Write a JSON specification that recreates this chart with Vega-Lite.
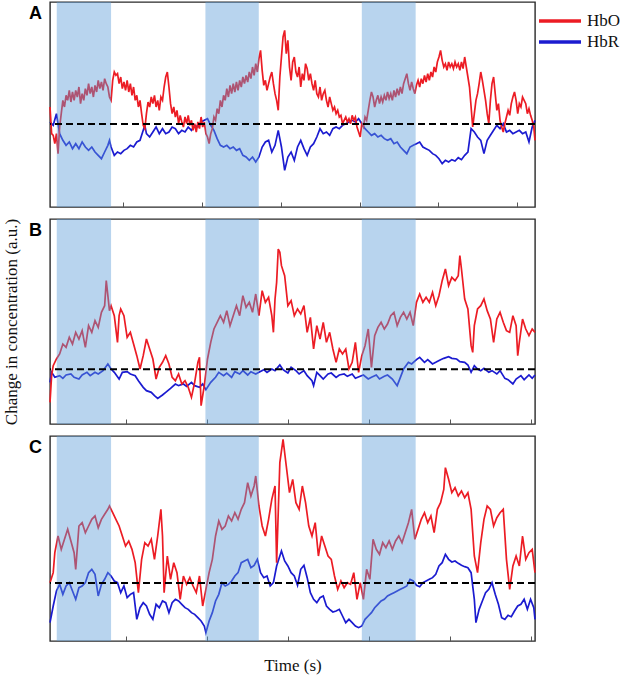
{
"$schema": "https://vega.github.io/schema/vega-lite/v6.json",
"padding": {"left": 1, "top": 1, "right": 2, "bottom": 2},
"bounds": "flush",
"spacing": 12,
"resolve": {"scale": {"x": "independent", "y": "independent", "color": "shared"}},
"config": {"view": {"stroke": "#2a2a2a", "strokeWidth": 1.4}, "axis": {"grid": false}},
"datasets": {
"bands": [{"s": 4.2, "e": 38}, {"s": 96.7, "e": 129.9}, {"s": 194, "e": 227.5}],
"aO": [{"t":0,"v":0.51},{"t":1,"v":-0.29},{"t":2,"v":-0.34},{"t":3,"v":-0.59},{"t":4,"v":-0.29},{"t":5,"v":-0.89},{"t":6,"v":-0.09},{"t":7,"v":0.31},{"t":8,"v":0.71},{"t":9,"v":0.51},{"t":10,"v":0.86},{"t":11,"v":0.71},{"t":12,"v":1.01},{"t":13,"v":0.66},{"t":14,"v":0.96},{"t":15,"v":0.71},{"t":16,"v":1.01},{"t":17,"v":0.81},{"t":18,"v":1.11},{"t":19,"v":0.61},{"t":20,"v":0.91},{"t":21,"v":0.71},{"t":22,"v":1.06},{"t":23,"v":0.86},{"t":24,"v":1.21},{"t":25,"v":0.91},{"t":26,"v":1.11},{"t":27,"v":0.81},{"t":28,"v":1.16},{"t":29,"v":0.96},{"t":30,"v":1.31},{"t":31,"v":1.06},{"t":32,"v":1.26},{"t":33,"v":1.01},{"t":34,"v":1.36},{"t":35,"v":1.21},{"t":36,"v":1.11},{"t":37,"v":0.81},{"t":38,"v":0.71},{"t":39,"v":1.31},{"t":40,"v":1.56},{"t":41,"v":1.46},{"t":42,"v":1.51},{"t":43,"v":1.21},{"t":44,"v":1.41},{"t":45,"v":1.06},{"t":46,"v":1.26},{"t":47,"v":1.01},{"t":48,"v":1.31},{"t":49,"v":0.96},{"t":50,"v":1.21},{"t":51,"v":0.86},{"t":52,"v":1.11},{"t":53,"v":0.71},{"t":54,"v":0.86},{"t":55,"v":0.51},{"t":56,"v":0.71},{"t":57,"v":0.31},{"t":58,"v":-0.04},{"t":59,"v":-0.14},{"t":60,"v":0.31},{"t":61,"v":0.66},{"t":62,"v":0.51},{"t":63,"v":0.81},{"t":64,"v":0.61},{"t":65,"v":0.86},{"t":66,"v":0.51},{"t":67,"v":0.71},{"t":68,"v":0.41},{"t":69,"v":0.81},{"t":70,"v":0.71},{"t":71,"v":1.11},{"t":72,"v":1.41},{"t":73,"v":1.56},{"t":74,"v":1.11},{"t":75,"v":0.61},{"t":76,"v":0.31},{"t":77,"v":0.51},{"t":78,"v":0.21},{"t":79,"v":0.41},{"t":80,"v":0.01},{"t":81,"v":0.26},{"t":82,"v":0.06},{"t":83,"v":-0.09},{"t":84,"v":0.21},{"t":85,"v":0.01},{"t":86,"v":0.26},{"t":87,"v":-0.04},{"t":88,"v":0.11},{"t":89,"v":-0.19},{"t":90,"v":0.01},{"t":91,"v":-0.24},{"t":92,"v":0.06},{"t":93,"v":-0.14},{"t":94,"v":0.21},{"t":95,"v":-0.09},{"t":96,"v":0.06},{"t":97,"v":-0.29},{"t":98,"v":-0.39},{"t":99,"v":-0.59},{"t":100,"v":-0.29},{"t":101,"v":-0.14},{"t":102,"v":0.21},{"t":103,"v":0.11},{"t":104,"v":0.46},{"t":105,"v":0.31},{"t":106,"v":0.71},{"t":107,"v":0.51},{"t":108,"v":0.86},{"t":109,"v":0.71},{"t":110,"v":1.06},{"t":111,"v":0.81},{"t":112,"v":1.16},{"t":113,"v":0.91},{"t":114,"v":1.21},{"t":115,"v":0.96},{"t":116,"v":1.26},{"t":117,"v":1.01},{"t":118,"v":1.31},{"t":119,"v":1.11},{"t":120,"v":1.41},{"t":121,"v":1.21},{"t":122,"v":1.46},{"t":123,"v":1.26},{"t":124,"v":1.56},{"t":125,"v":1.36},{"t":126,"v":1.71},{"t":127,"v":1.46},{"t":128,"v":1.81},{"t":129,"v":1.56},{"t":130,"v":1.96},{"t":131,"v":2.21},{"t":132,"v":1.61},{"t":133,"v":1.16},{"t":134,"v":1.31},{"t":135,"v":1.01},{"t":136,"v":1.21},{"t":137,"v":1.41},{"t":138,"v":1.56},{"t":139,"v":1.21},{"t":140,"v":0.91},{"t":141,"v":0.71},{"t":142,"v":0.41},{"t":143,"v":1.41},{"t":144,"v":2.01},{"t":145,"v":2.61},{"t":146,"v":2.81},{"t":147,"v":2.11},{"t":148,"v":2.51},{"t":149,"v":1.71},{"t":150,"v":1.31},{"t":151,"v":1.86},{"t":152,"v":2.01},{"t":153,"v":1.56},{"t":154,"v":1.41},{"t":155,"v":1.71},{"t":156,"v":1.11},{"t":157,"v":1.51},{"t":158,"v":1.31},{"t":159,"v":1.81},{"t":160,"v":1.66},{"t":161,"v":1.31},{"t":162,"v":1.51},{"t":163,"v":1.21},{"t":164,"v":1.01},{"t":165,"v":1.31},{"t":166,"v":0.91},{"t":167,"v":0.81},{"t":168,"v":1.11},{"t":169,"v":0.71},{"t":170,"v":0.91},{"t":171,"v":1.01},{"t":172,"v":0.71},{"t":173,"v":0.51},{"t":174,"v":0.81},{"t":175,"v":0.61},{"t":176,"v":0.41},{"t":177,"v":0.51},{"t":178,"v":0.31},{"t":179,"v":0.41},{"t":180,"v":0.21},{"t":181,"v":0.26},{"t":182,"v":0.01},{"t":183,"v":0.11},{"t":184,"v":0.21},{"t":185,"v":0.06},{"t":186,"v":0.16},{"t":187,"v":0.01},{"t":188,"v":0.26},{"t":189,"v":0.11},{"t":190,"v":0.21},{"t":191,"v":-0.09},{"t":192,"v":-0.24},{"t":193,"v":-0.39},{"t":194,"v":0.01},{"t":195,"v":-0.09},{"t":196,"v":0.21},{"t":197,"v":0.11},{"t":198,"v":0.41},{"t":199,"v":0.71},{"t":200,"v":0.96},{"t":201,"v":0.81},{"t":202,"v":0.51},{"t":203,"v":0.71},{"t":204,"v":0.86},{"t":205,"v":0.61},{"t":206,"v":0.81},{"t":207,"v":0.66},{"t":208,"v":0.86},{"t":209,"v":0.71},{"t":210,"v":0.96},{"t":211,"v":0.76},{"t":212,"v":0.91},{"t":213,"v":0.71},{"t":214,"v":1.01},{"t":215,"v":0.81},{"t":216,"v":1.06},{"t":217,"v":0.86},{"t":218,"v":1.11},{"t":219,"v":0.91},{"t":220,"v":1.21},{"t":221,"v":1.36},{"t":222,"v":1.51},{"t":223,"v":1.21},{"t":224,"v":1.01},{"t":225,"v":1.26},{"t":226,"v":1.06},{"t":227,"v":0.91},{"t":228,"v":1.16},{"t":229,"v":1.31},{"t":230,"v":1.11},{"t":231,"v":1.36},{"t":232,"v":1.21},{"t":233,"v":1.46},{"t":234,"v":1.26},{"t":235,"v":1.51},{"t":236,"v":1.31},{"t":237,"v":1.56},{"t":238,"v":1.41},{"t":239,"v":1.71},{"t":240,"v":1.56},{"t":241,"v":1.86},{"t":242,"v":2.01},{"t":243,"v":2.21},{"t":244,"v":1.91},{"t":245,"v":1.71},{"t":246,"v":1.81},{"t":247,"v":1.61},{"t":248,"v":1.86},{"t":249,"v":1.71},{"t":250,"v":1.81},{"t":251,"v":1.66},{"t":252,"v":1.86},{"t":253,"v":1.71},{"t":254,"v":1.81},{"t":255,"v":1.61},{"t":256,"v":1.86},{"t":257,"v":1.66},{"t":258,"v":2.01},{"t":259,"v":1.71},{"t":260,"v":1.41},{"t":261,"v":1.11},{"t":262,"v":0.51},{"t":263,"v":-0.09},{"t":264,"v":0.31},{"t":265,"v":0.71},{"t":266,"v":0.91},{"t":267,"v":1.21},{"t":268,"v":1.56},{"t":269,"v":1.31},{"t":270,"v":1.01},{"t":271,"v":0.71},{"t":272,"v":0.31},{"t":273,"v":0.01},{"t":274,"v":0.71},{"t":275,"v":1.21},{"t":276,"v":1.41},{"t":277,"v":0.91},{"t":278,"v":0.41},{"t":279,"v":0.61},{"t":280,"v":0.11},{"t":281,"v":-0.09},{"t":282,"v":-0.24},{"t":283,"v":0.01},{"t":284,"v":0.21},{"t":285,"v":0.41},{"t":286,"v":0.26},{"t":287,"v":0.61},{"t":288,"v":0.81},{"t":289,"v":0.96},{"t":290,"v":0.71},{"t":291,"v":0.31},{"t":292,"v":0.61},{"t":293,"v":0.51},{"t":294,"v":0.81},{"t":295,"v":0.71},{"t":296,"v":0.61},{"t":297,"v":0.31},{"t":298,"v":0.46},{"t":299,"v":0.26},{"t":300,"v":0.11},{"t":301,"v":-0.09},{"t":301.75,"v":-0.49}],
"aR": [{"t":0,"v":0.06},{"t":2,"v":-0.04},{"t":4,"v":0.31},{"t":6,"v":-0.29},{"t":8,"v":-0.49},{"t":10,"v":-0.64},{"t":12,"v":-0.54},{"t":14,"v":-0.74},{"t":16,"v":-0.59},{"t":18,"v":-0.74},{"t":20,"v":-0.54},{"t":22,"v":-0.69},{"t":24,"v":-0.79},{"t":26,"v":-0.69},{"t":28,"v":-0.84},{"t":30,"v":-0.94},{"t":32,"v":-1.04},{"t":34,"v":-0.84},{"t":36,"v":-0.64},{"t":37,"v":-0.49},{"t":38,"v":-0.69},{"t":40,"v":-0.94},{"t":42,"v":-0.84},{"t":44,"v":-0.89},{"t":46,"v":-0.79},{"t":48,"v":-0.74},{"t":50,"v":-0.64},{"t":52,"v":-0.69},{"t":54,"v":-0.54},{"t":56,"v":-0.49},{"t":58,"v":-0.19},{"t":59,"v":-0.04},{"t":60,"v":-0.29},{"t":62,"v":-0.39},{"t":64,"v":-0.24},{"t":66,"v":-0.09},{"t":68,"v":-0.29},{"t":70,"v":-0.14},{"t":72,"v":-0.29},{"t":74,"v":-0.24},{"t":76,"v":-0.09},{"t":78,"v":-0.14},{"t":80,"v":-0.29},{"t":82,"v":-0.19},{"t":84,"v":-0.24},{"t":86,"v":-0.09},{"t":88,"v":-0.19},{"t":90,"v":-0.04},{"t":92,"v":-0.09},{"t":94,"v":0.06},{"t":96,"v":0.11},{"t":98,"v":0.16},{"t":100,"v":-0.04},{"t":102,"v":-0.19},{"t":104,"v":-0.44},{"t":106,"v":-0.64},{"t":108,"v":-0.69},{"t":110,"v":-0.64},{"t":112,"v":-0.74},{"t":114,"v":-0.69},{"t":116,"v":-0.79},{"t":118,"v":-0.74},{"t":120,"v":-0.94},{"t":122,"v":-0.99},{"t":124,"v":-1.09},{"t":126,"v":-0.99},{"t":128,"v":-1.14},{"t":130,"v":-0.99},{"t":132,"v":-0.69},{"t":134,"v":-0.54},{"t":136,"v":-0.49},{"t":138,"v":-0.84},{"t":140,"v":-0.64},{"t":142,"v":-0.19},{"t":144,"v":-0.69},{"t":146,"v":-1.39},{"t":148,"v":-0.99},{"t":150,"v":-0.84},{"t":152,"v":-1.09},{"t":154,"v":-0.69},{"t":156,"v":-0.49},{"t":158,"v":-0.74},{"t":160,"v":-0.94},{"t":162,"v":-0.69},{"t":164,"v":-0.59},{"t":166,"v":-0.39},{"t":168,"v":-0.14},{"t":170,"v":-0.29},{"t":172,"v":-0.24},{"t":174,"v":-0.34},{"t":176,"v":-0.14},{"t":178,"v":-0.09},{"t":180,"v":-0.14},{"t":182,"v":-0.04},{"t":184,"v":0.01},{"t":186,"v":0.06},{"t":188,"v":0.11},{"t":190,"v":0.06},{"t":192,"v":0.16},{"t":194,"v":0.01},{"t":196,"v":-0.14},{"t":198,"v":-0.24},{"t":200,"v":-0.34},{"t":202,"v":-0.29},{"t":204,"v":-0.39},{"t":206,"v":-0.34},{"t":208,"v":-0.44},{"t":210,"v":-0.49},{"t":212,"v":-0.44},{"t":214,"v":-0.59},{"t":216,"v":-0.54},{"t":218,"v":-0.69},{"t":220,"v":-0.79},{"t":222,"v":-0.89},{"t":224,"v":-0.69},{"t":226,"v":-0.64},{"t":228,"v":-0.59},{"t":230,"v":-0.54},{"t":232,"v":-0.69},{"t":234,"v":-0.74},{"t":236,"v":-0.79},{"t":238,"v":-0.89},{"t":240,"v":-0.94},{"t":242,"v":-1.04},{"t":244,"v":-1.19},{"t":246,"v":-1.09},{"t":248,"v":-1.14},{"t":250,"v":-1.07},{"t":252,"v":-1.11},{"t":254,"v":-1.01},{"t":256,"v":-1.07},{"t":258,"v":-0.94},{"t":260,"v":-0.84},{"t":262,"v":-0.14},{"t":264,"v":-0.24},{"t":266,"v":-0.39},{"t":268,"v":-0.49},{"t":270,"v":-0.89},{"t":272,"v":-0.49},{"t":274,"v":-0.34},{"t":276,"v":-0.19},{"t":278,"v":-0.04},{"t":280,"v":-0.14},{"t":282,"v":0.01},{"t":284,"v":-0.24},{"t":286,"v":-0.19},{"t":288,"v":-0.29},{"t":290,"v":-0.24},{"t":292,"v":-0.19},{"t":294,"v":-0.29},{"t":296,"v":-0.24},{"t":298,"v":-0.54},{"t":300,"v":-0.09},{"t":301.75,"v":0.11}],
"bO": [{"t":0,"v":-0.99},{"t":1,"v":-0.19},{"t":2,"v":0.11},{"t":4,"v":0.31},{"t":6,"v":0.46},{"t":8,"v":0.76},{"t":10,"v":0.66},{"t":12,"v":0.96},{"t":14,"v":0.76},{"t":16,"v":1.11},{"t":18,"v":0.91},{"t":20,"v":1.16},{"t":22,"v":0.66},{"t":24,"v":1.31},{"t":26,"v":1.11},{"t":28,"v":1.46},{"t":30,"v":1.26},{"t":32,"v":1.71},{"t":34,"v":1.91},{"t":35,"v":2.66},{"t":36,"v":2.21},{"t":37,"v":1.76},{"t":38,"v":1.91},{"t":40,"v":1.61},{"t":42,"v":0.81},{"t":43,"v":1.61},{"t":44,"v":1.81},{"t":46,"v":1.61},{"t":48,"v":0.96},{"t":50,"v":1.11},{"t":52,"v":0.76},{"t":54,"v":0.41},{"t":56,"v":0.01},{"t":58,"v":0.41},{"t":60,"v":0.91},{"t":62,"v":0.61},{"t":64,"v":0.31},{"t":66,"v":-0.29},{"t":68,"v":0.06},{"t":70,"v":0.21},{"t":72,"v":0.41},{"t":74,"v":0.16},{"t":76,"v":-0.24},{"t":78,"v":-0.34},{"t":80,"v":-0.14},{"t":82,"v":-0.44},{"t":84,"v":-0.34},{"t":86,"v":-0.54},{"t":88,"v":-0.84},{"t":90,"v":-0.39},{"t":92,"v":0.21},{"t":93,"v":0.36},{"t":94,"v":-1.09},{"t":96,"v":-0.49},{"t":98,"v":0.31},{"t":100,"v":0.81},{"t":102,"v":1.21},{"t":104,"v":1.41},{"t":106,"v":1.61},{"t":108,"v":1.41},{"t":110,"v":1.76},{"t":112,"v":1.31},{"t":114,"v":1.61},{"t":116,"v":1.91},{"t":118,"v":1.61},{"t":120,"v":2.21},{"t":122,"v":1.86},{"t":124,"v":2.01},{"t":126,"v":1.71},{"t":128,"v":2.26},{"t":130,"v":1.61},{"t":132,"v":2.36},{"t":134,"v":2.01},{"t":136,"v":2.16},{"t":138,"v":1.61},{"t":139,"v":1.11},{"t":140,"v":2.11},{"t":141,"v":2.61},{"t":142,"v":3.61},{"t":143,"v":3.51},{"t":144,"v":3.11},{"t":146,"v":2.81},{"t":148,"v":1.91},{"t":150,"v":2.06},{"t":152,"v":1.61},{"t":154,"v":1.81},{"t":156,"v":1.66},{"t":158,"v":1.91},{"t":160,"v":1.11},{"t":162,"v":1.56},{"t":164,"v":0.61},{"t":166,"v":1.31},{"t":168,"v":0.91},{"t":170,"v":1.41},{"t":172,"v":0.81},{"t":174,"v":1.11},{"t":176,"v":0.61},{"t":178,"v":0.21},{"t":180,"v":0.61},{"t":182,"v":0.46},{"t":184,"v":0.61},{"t":186,"v":0.01},{"t":188,"v":0.21},{"t":190,"v":0.81},{"t":192,"v":-0.09},{"t":194,"v":0.41},{"t":196,"v":0.71},{"t":198,"v":1.21},{"t":200,"v":0.06},{"t":202,"v":1.01},{"t":204,"v":1.26},{"t":206,"v":1.41},{"t":208,"v":1.21},{"t":210,"v":1.36},{"t":212,"v":1.61},{"t":214,"v":1.71},{"t":216,"v":1.31},{"t":218,"v":1.56},{"t":220,"v":1.71},{"t":222,"v":1.51},{"t":224,"v":1.71},{"t":226,"v":1.31},{"t":228,"v":2.01},{"t":230,"v":2.26},{"t":232,"v":2.01},{"t":234,"v":2.16},{"t":236,"v":2.01},{"t":238,"v":2.31},{"t":240,"v":1.91},{"t":242,"v":2.21},{"t":244,"v":2.66},{"t":246,"v":3.01},{"t":248,"v":2.51},{"t":250,"v":2.76},{"t":252,"v":2.66},{"t":254,"v":2.81},{"t":255,"v":3.41},{"t":256,"v":3.01},{"t":258,"v":2.11},{"t":260,"v":1.81},{"t":262,"v":0.71},{"t":263,"v":0.51},{"t":264,"v":1.31},{"t":266,"v":1.81},{"t":268,"v":1.91},{"t":270,"v":2.11},{"t":272,"v":1.76},{"t":274,"v":1.51},{"t":276,"v":0.81},{"t":278,"v":1.51},{"t":280,"v":1.71},{"t":282,"v":1.41},{"t":284,"v":1.16},{"t":286,"v":1.11},{"t":288,"v":1.61},{"t":290,"v":1.31},{"t":291,"v":0.41},{"t":292,"v":0.81},{"t":294,"v":1.51},{"t":296,"v":1.21},{"t":298,"v":1.01},{"t":300,"v":1.21},{"t":301.75,"v":1.11}],
"bR": [{"t":0,"v":-0.39},{"t":1,"v":-0.09},{"t":3,"v":-0.24},{"t":6,"v":-0.19},{"t":8,"v":-0.27},{"t":10,"v":-0.17},{"t":13,"v":-0.14},{"t":15,"v":-0.24},{"t":18,"v":-0.29},{"t":20,"v":-0.17},{"t":23,"v":-0.09},{"t":25,"v":-0.19},{"t":28,"v":-0.09},{"t":30,"v":-0.14},{"t":33,"v":-0.04},{"t":36,"v":0.16},{"t":38,"v":0.01},{"t":40,"v":-0.09},{"t":43,"v":-0.29},{"t":45,"v":-0.09},{"t":48,"v":-0.07},{"t":50,"v":-0.14},{"t":53,"v":-0.19},{"t":55,"v":-0.34},{"t":58,"v":-0.54},{"t":60,"v":-0.64},{"t":63,"v":-0.69},{"t":65,"v":-0.79},{"t":67,"v":-0.87},{"t":70,"v":-0.77},{"t":72,"v":-0.69},{"t":75,"v":-0.57},{"t":78,"v":-0.44},{"t":80,"v":-0.49},{"t":83,"v":-0.44},{"t":85,"v":-0.51},{"t":88,"v":-0.39},{"t":90,"v":-0.49},{"t":93,"v":-0.54},{"t":95,"v":-0.44},{"t":97,"v":-0.61},{"t":100,"v":-0.39},{"t":103,"v":-0.24},{"t":105,"v":-0.09},{"t":108,"v":-0.19},{"t":110,"v":-0.11},{"t":113,"v":-0.24},{"t":115,"v":-0.07},{"t":118,"v":-0.14},{"t":120,"v":-0.04},{"t":123,"v":-0.17},{"t":125,"v":-0.07},{"t":128,"v":-0.14},{"t":130,"v":-0.09},{"t":133,"v":-0.01},{"t":135,"v":-0.09},{"t":138,"v":0.01},{"t":140,"v":-0.04},{"t":143,"v":0.13},{"t":145,"v":-0.01},{"t":148,"v":-0.11},{"t":150,"v":0.06},{"t":153,"v":-0.04},{"t":155,"v":-0.14},{"t":158,"v":-0.04},{"t":160,"v":-0.19},{"t":163,"v":-0.34},{"t":164,"v":-0.49},{"t":166,"v":-0.09},{"t":168,"v":-0.19},{"t":170,"v":-0.29},{"t":173,"v":-0.14},{"t":175,"v":-0.11},{"t":178,"v":-0.24},{"t":180,"v":-0.17},{"t":183,"v":-0.14},{"t":185,"v":-0.21},{"t":188,"v":-0.14},{"t":190,"v":-0.27},{"t":193,"v":-0.21},{"t":195,"v":-0.17},{"t":198,"v":-0.29},{"t":200,"v":-0.24},{"t":203,"v":-0.17},{"t":205,"v":-0.29},{"t":208,"v":-0.21},{"t":210,"v":-0.17},{"t":213,"v":-0.29},{"t":216,"v":-0.49},{"t":218,"v":-0.24},{"t":220,"v":0.01},{"t":223,"v":0.21},{"t":225,"v":0.16},{"t":228,"v":0.29},{"t":230,"v":0.36},{"t":233,"v":0.21},{"t":235,"v":0.29},{"t":238,"v":0.16},{"t":240,"v":0.21},{"t":243,"v":0.29},{"t":245,"v":0.33},{"t":248,"v":0.38},{"t":250,"v":0.33},{"t":253,"v":0.31},{"t":255,"v":0.23},{"t":258,"v":0.21},{"t":260,"v":0.13},{"t":262,"v":-0.09},{"t":264,"v":0.11},{"t":266,"v":0.01},{"t":268,"v":-0.04},{"t":270,"v":0.03},{"t":273,"v":-0.09},{"t":275,"v":-0.04},{"t":278,"v":-0.14},{"t":280,"v":-0.04},{"t":283,"v":-0.27},{"t":285,"v":-0.31},{"t":288,"v":-0.44},{"t":290,"v":-0.29},{"t":293,"v":-0.19},{"t":295,"v":-0.31},{"t":298,"v":-0.17},{"t":300,"v":-0.27},{"t":301.75,"v":-0.17}],
"cO": [{"t":0,"v":0.01},{"t":2,"v":0.31},{"t":3,"v":0.91},{"t":5,"v":1.41},{"t":7,"v":1.01},{"t":9,"v":1.31},{"t":11,"v":1.61},{"t":13,"v":1.26},{"t":15,"v":0.91},{"t":16,"v":0.41},{"t":18,"v":1.71},{"t":20,"v":1.81},{"t":22,"v":1.51},{"t":24,"v":1.71},{"t":26,"v":1.91},{"t":28,"v":2.01},{"t":30,"v":1.66},{"t":32,"v":1.91},{"t":34,"v":2.06},{"t":36,"v":2.21},{"t":37,"v":2.31},{"t":39,"v":2.11},{"t":41,"v":1.91},{"t":43,"v":1.71},{"t":45,"v":1.41},{"t":47,"v":1.11},{"t":49,"v":1.26},{"t":51,"v":1.01},{"t":53,"v":0.61},{"t":55,"v":-0.29},{"t":57,"v":0.71},{"t":59,"v":1.21},{"t":61,"v":1.11},{"t":63,"v":1.31},{"t":65,"v":0.71},{"t":67,"v":1.41},{"t":69,"v":2.21},{"t":70,"v":1.41},{"t":71,"v":-0.29},{"t":73,"v":0.81},{"t":75,"v":0.11},{"t":77,"v":0.61},{"t":79,"v":0.31},{"t":81,"v":-0.49},{"t":83,"v":0.21},{"t":85,"v":-0.04},{"t":87,"v":0.16},{"t":89,"v":-0.09},{"t":91,"v":-0.29},{"t":93,"v":0.21},{"t":95,"v":-0.69},{"t":97,"v":-0.19},{"t":99,"v":0.31},{"t":101,"v":0.71},{"t":103,"v":1.41},{"t":105,"v":1.86},{"t":107,"v":1.61},{"t":109,"v":1.71},{"t":111,"v":2.01},{"t":113,"v":1.86},{"t":115,"v":2.11},{"t":117,"v":1.91},{"t":119,"v":2.21},{"t":121,"v":2.41},{"t":123,"v":3.01},{"t":125,"v":2.61},{"t":127,"v":2.91},{"t":128,"v":3.21},{"t":130,"v":2.31},{"t":132,"v":1.71},{"t":134,"v":1.41},{"t":136,"v":1.91},{"t":138,"v":2.51},{"t":140,"v":2.91},{"t":141,"v":0.61},{"t":143,"v":3.61},{"t":145,"v":4.31},{"t":147,"v":3.51},{"t":149,"v":2.71},{"t":151,"v":3.11},{"t":153,"v":2.41},{"t":155,"v":2.21},{"t":157,"v":2.91},{"t":159,"v":2.41},{"t":161,"v":1.71},{"t":163,"v":1.41},{"t":165,"v":1.81},{"t":167,"v":0.81},{"t":169,"v":1.41},{"t":171,"v":1.11},{"t":173,"v":0.81},{"t":175,"v":0.71},{"t":177,"v":0.21},{"t":179,"v":-0.19},{"t":181,"v":0.06},{"t":183,"v":-0.14},{"t":185,"v":0.01},{"t":187,"v":-0.04},{"t":189,"v":0.31},{"t":191,"v":-0.49},{"t":193,"v":0.01},{"t":195,"v":-0.49},{"t":197,"v":0.41},{"t":199,"v":0.11},{"t":201,"v":1.31},{"t":203,"v":1.01},{"t":205,"v":0.86},{"t":207,"v":1.21},{"t":209,"v":1.06},{"t":211,"v":1.26},{"t":213,"v":1.01},{"t":215,"v":1.26},{"t":217,"v":1.41},{"t":219,"v":1.21},{"t":221,"v":1.51},{"t":223,"v":1.81},{"t":225,"v":2.21},{"t":227,"v":1.31},{"t":229,"v":1.61},{"t":231,"v":1.91},{"t":233,"v":2.11},{"t":235,"v":1.81},{"t":237,"v":2.01},{"t":239,"v":1.51},{"t":241,"v":2.21},{"t":243,"v":2.41},{"t":245,"v":2.81},{"t":246,"v":3.46},{"t":248,"v":3.11},{"t":250,"v":2.71},{"t":252,"v":2.86},{"t":254,"v":2.61},{"t":256,"v":2.76},{"t":258,"v":2.56},{"t":260,"v":2.71},{"t":262,"v":2.21},{"t":264,"v":0.81},{"t":266,"v":0.31},{"t":268,"v":1.21},{"t":270,"v":1.91},{"t":272,"v":2.31},{"t":274,"v":2.21},{"t":276,"v":1.71},{"t":278,"v":1.96},{"t":280,"v":2.11},{"t":282,"v":2.21},{"t":284,"v":0.71},{"t":286,"v":-0.19},{"t":288,"v":0.51},{"t":290,"v":0.81},{"t":292,"v":0.51},{"t":294,"v":1.41},{"t":296,"v":0.71},{"t":298,"v":0.91},{"t":300,"v":1.01},{"t":301.75,"v":0.31}],
"cR": [{"t":0,"v":-1.19},{"t":2,"v":-0.69},{"t":4,"v":-0.24},{"t":6,"v":-0.04},{"t":8,"v":-0.34},{"t":10,"v":-0.09},{"t":12,"v":0.01},{"t":14,"v":-0.24},{"t":16,"v":-0.49},{"t":18,"v":-0.14},{"t":20,"v":-0.09},{"t":22,"v":0.01},{"t":24,"v":0.31},{"t":26,"v":0.41},{"t":28,"v":0.26},{"t":30,"v":-0.39},{"t":32,"v":-0.04},{"t":34,"v":0.11},{"t":36,"v":0.31},{"t":38,"v":0.21},{"t":40,"v":0.06},{"t":42,"v":0.01},{"t":44,"v":-0.29},{"t":46,"v":-0.09},{"t":48,"v":-0.44},{"t":50,"v":-0.34},{"t":52,"v":-0.29},{"t":54,"v":-1.09},{"t":56,"v":-0.74},{"t":58,"v":-0.59},{"t":60,"v":-0.69},{"t":62,"v":-0.94},{"t":64,"v":-1.09},{"t":66,"v":-0.64},{"t":68,"v":-0.74},{"t":70,"v":-0.54},{"t":72,"v":-0.59},{"t":74,"v":-0.89},{"t":76,"v":-0.59},{"t":78,"v":-0.49},{"t":80,"v":-0.54},{"t":82,"v":-0.64},{"t":84,"v":-0.74},{"t":86,"v":-0.79},{"t":88,"v":-0.89},{"t":90,"v":-0.94},{"t":92,"v":-1.04},{"t":94,"v":-1.14},{"t":96,"v":-1.29},{"t":97,"v":-1.49},{"t":99,"v":-1.14},{"t":101,"v":-0.89},{"t":103,"v":-0.54},{"t":105,"v":-0.34},{"t":107,"v":0.01},{"t":109,"v":-0.09},{"t":111,"v":-0.04},{"t":113,"v":0.06},{"t":115,"v":0.21},{"t":117,"v":0.31},{"t":119,"v":0.61},{"t":121,"v":0.66},{"t":123,"v":0.71},{"t":125,"v":0.46},{"t":127,"v":0.53},{"t":129,"v":0.71},{"t":131,"v":0.31},{"t":133,"v":0.16},{"t":135,"v":0.21},{"t":137,"v":-0.09},{"t":139,"v":0.01},{"t":141,"v":0.51},{"t":143,"v":0.81},{"t":144,"v":0.96},{"t":146,"v":0.66},{"t":148,"v":0.51},{"t":150,"v":0.31},{"t":152,"v":0.21},{"t":154,"v":-0.07},{"t":156,"v":0.41},{"t":158,"v":0.53},{"t":160,"v":0.16},{"t":162,"v":-0.29},{"t":164,"v":-0.49},{"t":166,"v":-0.59},{"t":168,"v":-0.44},{"t":170,"v":-0.39},{"t":172,"v":-0.69},{"t":174,"v":-0.79},{"t":176,"v":-0.87},{"t":178,"v":-0.84},{"t":180,"v":-0.79},{"t":182,"v":-0.99},{"t":184,"v":-1.19},{"t":186,"v":-1.09},{"t":188,"v":-1.19},{"t":190,"v":-1.29},{"t":192,"v":-1.34},{"t":194,"v":-1.29},{"t":196,"v":-1.09},{"t":198,"v":-0.99},{"t":200,"v":-0.89},{"t":202,"v":-0.74},{"t":204,"v":-0.64},{"t":206,"v":-0.54},{"t":208,"v":-0.49},{"t":210,"v":-0.39},{"t":212,"v":-0.34},{"t":214,"v":-0.29},{"t":216,"v":-0.24},{"t":218,"v":-0.19},{"t":220,"v":-0.14},{"t":222,"v":-0.09},{"t":224,"v":0.11},{"t":226,"v":0.06},{"t":228,"v":-0.07},{"t":230,"v":-0.11},{"t":232,"v":0.01},{"t":234,"v":0.06},{"t":236,"v":0.11},{"t":238,"v":0.16},{"t":240,"v":0.26},{"t":242,"v":0.51},{"t":244,"v":0.61},{"t":246,"v":0.86},{"t":248,"v":0.71},{"t":250,"v":0.63},{"t":252,"v":0.66},{"t":254,"v":0.59},{"t":256,"v":0.53},{"t":258,"v":0.49},{"t":260,"v":0.46},{"t":262,"v":0.31},{"t":264,"v":-0.49},{"t":265,"v":-1.19},{"t":267,"v":-0.79},{"t":269,"v":-0.54},{"t":271,"v":-0.29},{"t":273,"v":-0.19},{"t":275,"v":0.01},{"t":277,"v":-0.34},{"t":279,"v":-0.64},{"t":281,"v":-1.04},{"t":283,"v":-1.09},{"t":285,"v":-0.97},{"t":287,"v":-1.01},{"t":289,"v":-0.84},{"t":291,"v":-0.69},{"t":293,"v":-0.64},{"t":295,"v":-0.49},{"t":297,"v":-0.79},{"t":299,"v":-0.49},{"t":301,"v":-0.74},{"t":301.75,"v":-1.09}]
},
"vconcat": [
{
"width": 485, "height": 205,
"layer": [
{"data": {"name": "aR"}, "mark": {"type": "line", "strokeWidth": 1.7},
 "encoding": {
  "x": {"field": "t", "type": "quantitative", "scale": {"domain": [0, 301.75], "nice": false, "zero": false},
        "axis": {"values": [45.7, 94.7, 143.7, 192.6, 241.6, 290.6], "labels": false, "domain": false, "tickSize": -5, "tickColor": "#555", "tickWidth": 1, "title": null}},
  "y": {"field": "v", "type": "quantitative", "scale": {"domain": [-2.49, 3.66], "nice": false, "zero": false}, "axis": null},
  "color": {"datum": "HbR", "type": "nominal", "scale": {"domain": ["HbO", "HbR"], "range": ["#ec1c24", "#1b1bd0"]},
   "legend": {"orient": "none", "legendX": 501, "legendY": 10, "title": null, "symbolType": "M-3,0H3", "symbolSize": 196, "symbolStrokeWidth": 3.5, "symbolFillColor": "transparent", "labelFont": "Liberation Serif", "labelFontSize": 17, "labelColor": "#111", "labelOffset": 18, "rowPadding": 4, "padding": 0}}
 }},
{"data": {"name": "aO"}, "mark": {"type": "line", "strokeWidth": 1.7},
 "encoding": {"x": {"field": "t", "type": "quantitative"}, "y": {"field": "v", "type": "quantitative"}, "color": {"datum": "HbO", "type": "nominal"}}},
{"data": {"name": "bands"}, "mark": {"type": "rect", "color": "#5d9cd9", "opacity": 0.44},
 "encoding": {"x": {"field": "s", "type": "quantitative"}, "x2": {"field": "e"}}},
{"data": {"values": [{"z": 0}]}, "mark": {"type": "rule", "strokeDash": [7, 4], "strokeWidth": 2, "color": "#000"}, "encoding": {"y": {"field": "z", "type": "quantitative"}}},
{"data": {"values": [{"k": "A"}]}, "mark": {"type": "text", "align": "left", "baseline": "alphabetic", "dx": -21, "dy": 17, "font": "Liberation Sans", "fontSize": 18, "fontWeight": "bold", "color": "#000"},
 "encoding": {"text": {"field": "k"}, "x": {"datum": 0, "type": "quantitative"}, "y": {"datum": 3.66, "type": "quantitative"}}}
]
},
{
"width": 485, "height": 205,
"layer": [
{"data": {"name": "bR"}, "mark": {"type": "line", "strokeWidth": 1.7},
 "encoding": {
  "x": {"field": "t", "type": "quantitative", "scale": {"domain": [0, 301.75], "nice": false, "zero": false},
        "axis": {"values": [47.3, 97.7, 148.1, 198.5, 248.9, 299.3], "labels": false, "domain": false, "tickSize": -5, "tickColor": "#555", "tickWidth": 1, "title": null}},
  "y": {"field": "v", "type": "quantitative", "scale": {"domain": [-1.64, 4.51], "nice": false, "zero": false},
        "axis": {"title": "Change in concentration (a.u.)", "labels": false, "ticks": false, "domain": false, "titleFont": "Liberation Serif", "titleFontSize": 17, "titleFontWeight": "normal", "titleColor": "#111", "titlePadding": 30}},
  "color": {"datum": "HbR", "type": "nominal"}
 }},
{"data": {"name": "bO"}, "mark": {"type": "line", "strokeWidth": 1.7},
 "encoding": {"x": {"field": "t", "type": "quantitative"}, "y": {"field": "v", "type": "quantitative"}, "color": {"datum": "HbO", "type": "nominal"}}},
{"data": {"name": "bands"}, "mark": {"type": "rect", "color": "#5d9cd9", "opacity": 0.44},
 "encoding": {"x": {"field": "s", "type": "quantitative"}, "x2": {"field": "e"}}},
{"data": {"values": [{"z": 0}]}, "mark": {"type": "rule", "strokeDash": [7, 4], "strokeWidth": 2, "color": "#000"}, "encoding": {"y": {"field": "z", "type": "quantitative"}}},
{"data": {"values": [{"k": "B"}]}, "mark": {"type": "text", "align": "left", "baseline": "alphabetic", "dx": -21, "dy": 17, "font": "Liberation Sans", "fontSize": 18, "fontWeight": "bold", "color": "#000"},
 "encoding": {"text": {"field": "k"}, "x": {"datum": 0, "type": "quantitative"}, "y": {"datum": 4.51, "type": "quantitative"}}}
]
},
{
"width": 485, "height": 205,
"layer": [
{"data": {"name": "cR"}, "mark": {"type": "line", "strokeWidth": 1.7},
 "encoding": {
  "x": {"field": "t", "type": "quantitative", "scale": {"domain": [0, 301.75], "nice": false, "zero": false},
        "axis": {"values": [47.3, 97.7, 148.1, 198.5, 248.9, 299.3], "labels": false, "domain": false, "tickSize": -5, "tickColor": "#555", "tickWidth": 1, "title": "Time (s)", "titleFont": "Liberation Serif", "titleFontSize": 17, "titleFontWeight": "normal", "titleColor": "#111", "titlePadding": 16}},
  "y": {"field": "v", "type": "quantitative", "scale": {"domain": [-1.74, 4.41], "nice": false, "zero": false}, "axis": null},
  "color": {"datum": "HbR", "type": "nominal"}
 }},
{"data": {"name": "cO"}, "mark": {"type": "line", "strokeWidth": 1.7},
 "encoding": {"x": {"field": "t", "type": "quantitative"}, "y": {"field": "v", "type": "quantitative"}, "color": {"datum": "HbO", "type": "nominal"}}},
{"data": {"name": "bands"}, "mark": {"type": "rect", "color": "#5d9cd9", "opacity": 0.44},
 "encoding": {"x": {"field": "s", "type": "quantitative"}, "x2": {"field": "e"}}},
{"data": {"values": [{"z": 0}]}, "mark": {"type": "rule", "strokeDash": [7, 4], "strokeWidth": 2, "color": "#000"}, "encoding": {"y": {"field": "z", "type": "quantitative"}}},
{"data": {"values": [{"k": "C"}]}, "mark": {"type": "text", "align": "left", "baseline": "alphabetic", "dx": -21, "dy": 17, "font": "Liberation Sans", "fontSize": 18, "fontWeight": "bold", "color": "#000"},
 "encoding": {"text": {"field": "k"}, "x": {"datum": 0, "type": "quantitative"}, "y": {"datum": 4.41, "type": "quantitative"}}}
]
}
]
}
